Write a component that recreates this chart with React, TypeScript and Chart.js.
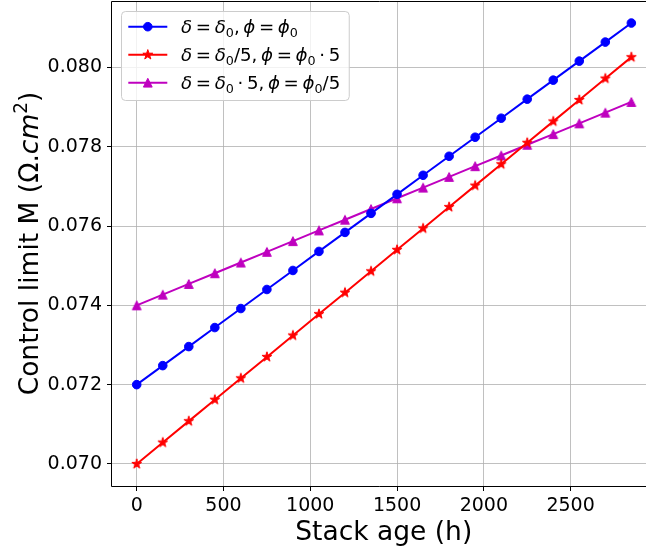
import React, { useEffect, useRef } from "react";
import { Chart, registerables } from "chart.js";

Chart.register(...registerables);

// ---- data ----
const HOURS = [0, 150, 300, 450, 600, 750, 900, 1050, 1200, 1350, 1500, 1650, 1800, 1950, 2100, 2250, 2400, 2550, 2700, 2850];
const M_BASE = [0.0720, 0.07248, 0.07296, 0.07344, 0.07392, 0.0744, 0.07488, 0.07536, 0.07584, 0.07632, 0.0768, 0.07728, 0.07776, 0.07824, 0.07872, 0.0792, 0.07968, 0.08016, 0.08064, 0.08112];
const M_DELTA_LOW = [0.0700, 0.07054, 0.07108, 0.07162, 0.07216, 0.0727, 0.07324, 0.07378, 0.07432, 0.07486, 0.0754, 0.07594, 0.07648, 0.07702, 0.07756, 0.0781, 0.07864, 0.07918, 0.07972, 0.08026];
const M_DELTA_HIGH = [0.0740, 0.07427, 0.07454, 0.07481, 0.07508, 0.07535, 0.07562, 0.07589, 0.07616, 0.07643, 0.0767, 0.07697, 0.07724, 0.07751, 0.07778, 0.07805, 0.07832, 0.07859, 0.07886, 0.07913];
const X_TICKS = [0, 500, 1000, 1500, 2000, 2500];
const Y_TICKS = [0.07, 0.072, 0.074, 0.076, 0.078, 0.08];
// visible x range (the original axes continue past the right edge of the image)
const X_LIMITS = [-142.5, 2934.4];
const Y_LIMITS = [0.069444, 0.081676];
const X_TITLE = "Stack age (h)";
const X_TITLE_CENTER = 383.7;

const FONT = '"DejaVu Sans", sans-serif';
const BLUE = "#0000ff";
const RED = "#ff0000";
const MAGENTA = "#bf00bf";

type Seg = { t: string; it?: boolean; sub?: boolean; sup?: boolean; gap?: number };

const Y_TITLE: Seg[] = [
  { t: "Control limit M (Ω." },
  { t: "cm", it: true },
  { t: "2", sup: true },
  { t: ")" },
];

const SP: Seg = { t: "", gap: 0.2 };
const EQ: Seg[] = [SP, { t: "=" }, SP];
const DOT: Seg[] = [SP, { t: "·" }, SP];
const COMMA: Seg[] = [{ t: "," }, SP];
const D: Seg = { t: "δ", it: true };
const P: Seg = { t: "ϕ", it: true };
const Z: Seg = { t: "0", sub: true };

const LEGEND_LABELS: Seg[][] = [
  [D, ...EQ, D, Z, ...COMMA, P, ...EQ, P, Z],
  [D, ...EQ, D, Z, { t: "/5" }, ...COMMA, P, ...EQ, P, Z, ...DOT, { t: "5" }],
  [D, ...EQ, D, Z, ...DOT, { t: "5" }, ...COMMA, P, ...EQ, P, Z, { t: "/5" }],
];

function segFont(s: Seg, size: number) {
  const sz = s.sub || s.sup ? size * 0.7 : size;
  return `${s.it ? "italic " : ""}${sz}px ${FONT}`;
}

function segWidth(ctx: CanvasRenderingContext2D, s: Seg, size: number) {
  if (s.gap) return s.gap * size;
  ctx.font = segFont(s, size);
  return ctx.measureText(s.t).width;
}

function richWidth(ctx: CanvasRenderingContext2D, segs: Seg[], size: number) {
  let w = 0;
  for (const s of segs) w += segWidth(ctx, s, size);
  return w;
}

function drawRich(ctx: CanvasRenderingContext2D, segs: Seg[], x: number, y: number, size: number, align: "left" | "center") {
  const total = richWidth(ctx, segs, size);
  let cx = align === "center" ? x - total / 2 : x;
  ctx.textAlign = "left";
  ctx.textBaseline = "alphabetic";
  for (const s of segs) {
    if (!s.gap) {
      ctx.font = segFont(s, size);
      const dy = s.sub ? size * 0.2 : s.sup ? -size * 0.4 : 0;
      ctx.fillText(s.t, cx, y + dy);
    }
    cx += segWidth(ctx, s, size);
  }
}

function pathStar(ctx: CanvasRenderingContext2D, x: number, y: number, r: number) {
  const inner = r * 0.382;
  ctx.beginPath();
  for (let i = 0; i < 10; i++) {
    const rad = i % 2 === 0 ? r : inner;
    const a = -Math.PI / 2 + (i * Math.PI) / 5;
    const px = x + rad * Math.cos(a);
    const py = y + rad * Math.sin(a);
    if (i === 0) ctx.moveTo(px, py);
    else ctx.lineTo(px, py);
  }
  ctx.closePath();
}

function pathTriangle(ctx: CanvasRenderingContext2D, x: number, y: number, r: number) {
  ctx.beginPath();
  ctx.moveTo(x, y - r);
  ctx.lineTo(x - r, y + r);
  ctx.lineTo(x + r, y + r);
  ctx.closePath();
}

function drawMarker(ctx: CanvasRenderingContext2D, kind: string, x: number, y: number, color: string) {
  ctx.save();
  ctx.fillStyle = color;
  ctx.strokeStyle = color;
  ctx.lineWidth = 1;
  if (kind === "circle") {
    ctx.beginPath();
    ctx.arc(x, y, 4.3, 0, Math.PI * 2);
  } else if (kind === "star") {
    pathStar(ctx, x, y, 5.2);
  } else {
    pathTriangle(ctx, x, y, 4.4);
  }
  ctx.fill();
  ctx.stroke();
  ctx.restore();
}

function markerImage(kind: string, color: string) {
  const c = document.createElement("canvas");
  c.width = 16;
  c.height = 16;
  const ctx = c.getContext("2d")!;
  drawMarker(ctx, kind, 8, 8, color);
  return c;
}

const SERIES = [
  { data: M_BASE, color: BLUE, marker: "circle" },
  { data: M_DELTA_LOW, color: RED, marker: "star" },
  { data: M_DELTA_HIGH, color: MAGENTA, marker: "triangle" },
];

const overlay = {
  id: "overlay",
  afterDatasetsDraw(chart: any) {
    const ctx: CanvasRenderingContext2D = chart.ctx;
    const a = chart.chartArea;
    // spines: left, top, bottom (right spine lies beyond the visible page)
    const L = Math.round(a.left) - 0.5;
    const T = Math.round(a.top) + 0.5;
    const B = Math.round(a.bottom) + 0.5;
    ctx.save();
    ctx.strokeStyle = "#000";
    ctx.lineWidth = 1;
    ctx.beginPath();
    ctx.moveTo(L, B);
    ctx.lineTo(L, T);
    ctx.lineTo(a.right + 2, T);
    ctx.moveTo(L, B);
    ctx.lineTo(a.right + 2, B);
    ctx.stroke();
    ctx.restore();

    // legend
    const size = 18.2;
    const boxX = 121.5;
    const boxY = 11.5;
    const textX = 181;
    const rowY = [26.7, 54.8, 82.7];
    let maxW = 0;
    for (const l of LEGEND_LABELS) maxW = Math.max(maxW, richWidth(ctx, l, size));
    const boxW = textX + maxW + 9 - boxX;
    const boxH = 89;
    ctx.save();
    ctx.beginPath();
    ctx.roundRect(boxX, boxY, boxW, boxH, 4);
    ctx.fillStyle = "rgba(255,255,255,0.8)";
    ctx.fill();
    ctx.strokeStyle = "#cccccc";
    ctx.lineWidth = 1;
    ctx.stroke();
    ctx.restore();
    SERIES.forEach((s, i) => {
      const y = rowY[i];
      ctx.save();
      ctx.strokeStyle = s.color;
      ctx.lineWidth = 2;
      ctx.beginPath();
      ctx.moveTo(128.3, y);
      ctx.lineTo(167.3, y);
      ctx.stroke();
      ctx.restore();
      drawMarker(ctx, s.marker, 147.8, y, s.color);
      ctx.fillStyle = "#000";
      drawRich(ctx, LEGEND_LABELS[i], textX, y + 6.4, size, "left");
    });
  },
  afterDraw(chart: any) {
    const ctx: CanvasRenderingContext2D = chart.ctx;
    const a = chart.chartArea;
    ctx.save();
    ctx.fillStyle = "#000";
    ctx.font = `26.5px ${FONT}`;
    ctx.textAlign = "center";
    ctx.textBaseline = "alphabetic";
    ctx.fillText(X_TITLE, X_TITLE_CENTER, 539.5);
    ctx.translate(37.5, (a.top + a.bottom) / 2);
    ctx.rotate(-Math.PI / 2);
    drawRich(ctx, Y_TITLE, 0, 0, 26.5, "center");
    ctx.restore();
  },
};

function zeroPad(s: any) {
  s.paddingTop = 0;
  s.paddingBottom = 0;
  s.paddingLeft = 0;
  s.paddingRight = 0;
}

export default function App() {
  const ref = useRef<HTMLCanvasElement | null>(null);
  useEffect(() => {
    if (!ref.current) return;
    const datasets = SERIES.map((s) => ({
      data: HOURS.map((h, i) => ({ x: h, y: s.data[i] })),
      borderColor: s.color,
      backgroundColor: s.color,
      borderWidth: 2,
      pointStyle: s.marker === "circle" ? "circle" : (markerImage(s.marker, s.color) as any),
      pointRadius: s.marker === "circle" ? 4.3 : 8,
      pointBorderWidth: 1,
      pointBackgroundColor: s.color,
      pointBorderColor: s.color,
      tension: 0,
      clip: false,
    }));
    const tickFont = { family: "DejaVu Sans", size: 19 };
    const grid = {
      color: "#b0b0b0",
      lineWidth: 0.8,
      drawTicks: true,
      tickLength: 5,
      tickColor: "#000",
      tickWidth: 1,
    };
    const chart = new Chart(ref.current, {
      type: "line",
      data: { datasets },
      plugins: [overlay],
      options: {
        animation: false,
        responsive: false,
        devicePixelRatio: 1,
        layout: { autoPadding: false, padding: { top: 1, left: 0, right: 0, bottom: 0 } },
        plugins: { legend: { display: false }, tooltip: { enabled: false } },
        scales: {
          x: {
            type: "linear",
            min: X_LIMITS[0],
            max: X_LIMITS[1],
            afterBuildTicks: (s: any) => {
              s.ticks = X_TICKS.map((v) => ({ value: v }));
            },
            afterFit: (s: any) => {
              s.height = 65;
              zeroPad(s);
            },
            grid,
            border: { display: false },
            ticks: {
              font: tickFont,
              color: "#000",
              padding: 4,
              autoSkip: false,
              maxRotation: 0,
              callback: (v: any) => String(v),
            },
          },
          y: {
            type: "linear",
            min: Y_LIMITS[0],
            max: Y_LIMITS[1],
            afterBuildTicks: (s: any) => {
              s.ticks = Y_TICKS.map((v) => ({ value: v }));
            },
            afterFit: (s: any) => {
              s.width = 112;
              zeroPad(s);
            },
            grid,
            border: { display: false },
            ticks: {
              font: tickFont,
              color: "#000",
              padding: 5,
              autoSkip: false,
              callback: (v: any) => Number(v).toFixed(3),
            },
          },
        },
      } as any,
    });
    return () => chart.destroy();
  }, []);
  return (
    <div style={{ position: "fixed", left: 0, top: 0, width: 646, height: 551, overflow: "hidden", background: "#fff" }}>
      <canvas ref={ref} width={646} height={551} style={{ width: 646, height: 551, display: "block" }} />
    </div>
  );
}
